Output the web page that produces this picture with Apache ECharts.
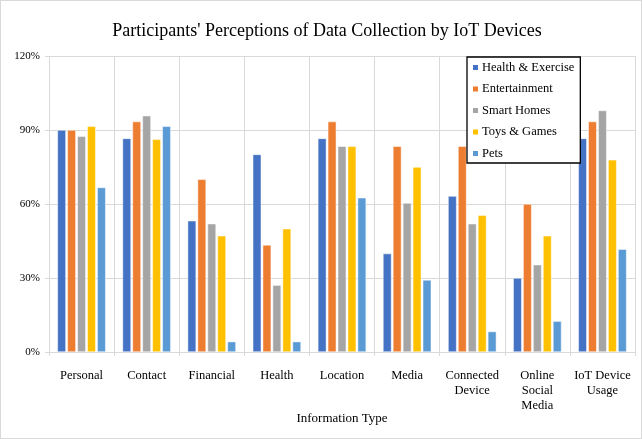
<!DOCTYPE html>
<html><head><meta charset="utf-8">
<script src="https://cdn.jsdelivr.net/npm/echarts@6/dist/echarts.min.js"></script>
<style>html,body{margin:0;padding:0;background:#fff}#c{width:642px;height:439px;box-sizing:border-box;border:1px solid #d9d9d9}</style>
</head><body><div id="c"></div>
<script>
const categories = ['Personal','Contact','Financial','Health','Location','Media','Connected\nDevice','Online\nSocial\nMedia','IoT Device\nUsage'];
const seriesNames = ['Health & Exercise','Entertainment','Smart Homes','Toys & Games','Pets'];
const healthExercise = [90, 86.6, 53.2, 80.1, 86.6, 39.9, 63.2, 30, 86.6];
const entertainment = [90, 93.4, 70, 43.4, 93.4, 83.4, 83.4, 60, 93.4];
const smartHomes = [87.5, 95.8, 52, 27.1, 83.4, 60.4, 52, 35.4, 97.9];
const toysGames = [91.5, 86.2, 47.1, 50, 83.4, 75, 55.4, 47.1, 77.9];
const pets = [66.7, 91.5, 4.2, 4.2, 62.5, 29.2, 8.3, 12.5, 41.7];
const yTicks = [0, 30, 60, 90, 120];
const colors = ['#4472C4','#ED7D31','#A5A5A5','#FFC000','#5B9BD5'];
const values = [healthExercise, entertainment, smartHomes, toysGames, pets];
const font = '"Liberation Serif", "Times New Roman", serif';
const chart = echarts.init(document.getElementById('c'));
chart.setOption({
  animation: false,
  textStyle: {fontFamily: font},
  title: {text: "Participants' Perceptions of Data Collection by IoT Devices", left: 321, textAlign: 'center', top: 16,
    textStyle: {fontFamily: font, fontSize: 18, fontWeight: 'normal', color: '#000'}},
  legend: {orient: 'vertical', left: 466, top: 56, width: 112, itemWidth: 7, itemHeight: 7, itemGap: 8.5,
    icon: 'rect', borderColor: '#000', borderWidth: 1.3, padding: [4, 6, 3, 4],
    textStyle: {fontFamily: font, fontSize: 12.5, color: '#000', padding: [0,0,0,-2]}, data: seriesNames, backgroundColor: '#fff'},
  grid: {left: 48, right: 6, top: 55, bottom: 86, containLabel: false},
  xAxis: {type: 'category', data: categories, name: 'Information Type', nameLocation: 'middle', nameGap: 60, nameMoveOverlap: false,
    nameTextStyle: {fontFamily: font, fontSize: 13, color: '#000'},
    axisLine: {lineStyle: {color: '#d9d9d9'}}, axisTick: {show: true, length: 4, lineStyle: {color: '#d9d9d9'}},
    axisLabel: {interval: 0, fontFamily: font, fontSize: 12.5, color: '#000', lineHeight: 15, margin: 16},
    splitLine: {show: true, lineStyle: {color: '#d9d9d9'}}},
  yAxis: {type: 'value', min: 0, max: 120, interval: 30,
    axisLabel: {formatter: v => yTicks.includes(v) ? v + '%' : '', fontFamily: font, fontSize: 11, color: '#000', margin: 9},
    axisLine: {show: false}, axisTick: {show: true, length: 4, lineStyle: {color: '#d9d9d9'}},
    splitLine: {lineStyle: {color: '#d9d9d9'}}},
  series: seriesNames.map((n, i) => ({
    name: n, type: 'bar', data: values[i], barWidth: 8.5, barGap: '17%',
    itemStyle: {color: colors[i], borderColor: '#fff', borderWidth: 0.5}
  }))
});
</script></body></html>
